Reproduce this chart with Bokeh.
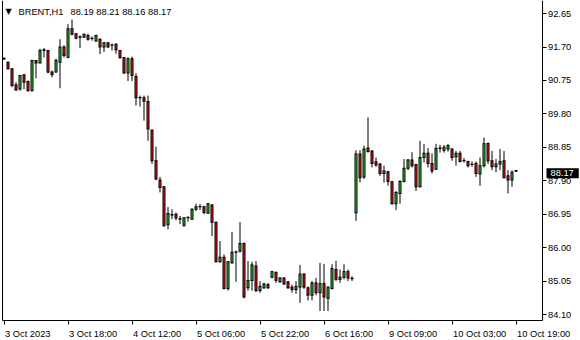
from bokeh.plotting import figure
from bokeh.models import FixedTicker, PrintfTickFormatter, Label, LinearAxis, Range1d, ColumnDataSource
from bokeh.embed import file_html
from bokeh.resources import INLINE

# ---- data (BRENT, H1) ----
opens = [91.38, 91.27, 91.08, 90.63, 90.51, 90.91, 90.72, 90.46, 91.32, 91.25,
         91.62, 91.60, 90.99, 90.99, 91.27, 91.70, 91.41, 92.22, 92.08, 91.99,
         91.98, 92.03, 91.95, 91.87, 91.92, 91.70, 91.82, 91.76, 91.78, 91.60,
         91.40, 90.96, 91.37, 90.86, 90.27, 90.26, 90.15, 89.34, 88.47, 87.92,
         87.73, 86.65, 86.94, 86.95, 86.82, 86.64, 86.86, 86.81, 87.09, 87.17,
         87.16, 86.98, 87.21, 86.72, 85.60, 85.73, 84.84, 85.57, 85.88, 85.90,
         86.12, 84.86, 85.07, 85.48, 84.78, 84.86, 84.95, 85.16, 85.30, 85.03,
         85.14, 85.03, 84.88, 84.81, 84.88, 85.25, 84.86, 84.65, 85.00, 84.72,
         84.98, 84.56, 84.84, 85.38, 85.10, 85.16, 85.32, 85.13, 86.99, 88.66,
         88.01, 88.83, 88.75, 88.44, 88.38, 88.11, 88.16, 87.87, 87.25, 87.54,
         87.88, 88.26, 88.49, 88.36, 87.73, 88.56, 88.68, 88.39, 88.23, 88.83,
         88.77, 88.80, 88.80, 88.58, 88.68, 88.48, 88.45, 88.37, 88.39, 88.09,
         88.33, 88.96, 88.47, 88.30, 88.38, 88.47, 88.04, 87.92, 88.19]
highs = [91.40, 91.29, 91.09, 90.70, 90.90, 90.92, 90.75, 91.34, 91.33, 91.65,
         91.67, 91.62, 91.03, 91.37, 91.92, 91.75, 92.35, 92.48, 92.10, 92.03,
         92.08, 92.08, 92.00, 92.05, 91.95, 91.84, 91.84, 91.80, 91.81, 91.62,
         91.41, 91.41, 91.43, 90.96, 90.32, 90.32, 90.32, 89.35, 88.87, 88.01,
         87.75, 87.16, 87.09, 87.00, 86.90, 86.87, 86.90, 87.12, 87.25, 87.24,
         87.19, 87.27, 87.24, 86.74, 86.19, 85.81, 85.62, 86.45, 85.92, 86.73,
         86.15, 85.62, 85.60, 85.62, 85.05, 85.00, 85.00, 85.34, 85.32, 85.16,
         85.16, 85.05, 84.95, 85.05, 85.51, 85.28, 84.90, 85.05, 85.14, 85.57,
         85.54, 84.90, 85.53, 85.63, 85.38, 85.53, 85.38, 85.19, 88.77, 88.77,
         88.90, 89.70, 88.77, 88.56, 88.40, 88.33, 88.18, 87.90, 87.61, 87.92,
         88.52, 88.52, 88.71, 88.38, 89.04, 88.95, 88.83, 88.68, 88.95, 88.92,
         88.92, 88.95, 88.82, 88.75, 88.75, 88.55, 88.47, 88.45, 88.45, 88.56,
         89.13, 88.99, 88.75, 88.52, 88.80, 88.75, 88.20, 88.20, 88.21]
lows = [91.33, 91.06, 90.56, 90.46, 90.46, 90.50, 90.44, 90.44, 90.81, 91.24,
        91.40, 90.95, 90.84, 90.97, 90.53, 91.40, 91.38, 92.03, 91.92, 91.67,
        91.96, 91.88, 91.88, 91.85, 91.50, 91.56, 91.68, 91.60, 91.51, 91.36,
        90.94, 90.73, 90.73, 90.04, 90.01, 89.61, 89.04, 88.38, 87.92, 87.57,
        86.60, 86.52, 86.81, 86.78, 86.67, 86.59, 86.74, 86.79, 87.04, 87.07,
        86.95, 86.97, 86.33, 85.58, 85.57, 84.81, 84.78, 85.54, 85.03, 85.86,
        84.56, 84.78, 84.78, 84.74, 84.72, 84.83, 84.83, 85.13, 85.00, 85.00,
        84.94, 84.83, 84.72, 84.69, 84.43, 84.83, 84.50, 84.50, 84.65, 84.20,
        84.20, 84.20, 84.81, 85.05, 85.00, 85.10, 85.05, 85.05, 86.76, 87.85,
        87.95, 88.70, 88.28, 88.30, 88.04, 87.85, 87.76, 87.22, 87.07, 87.25,
        87.85, 88.20, 88.28, 87.61, 87.71, 88.42, 88.28, 88.11, 88.21, 88.70,
        88.70, 88.73, 88.47, 88.33, 88.42, 88.42, 88.28, 88.30, 88.01, 87.76,
        88.28, 88.38, 88.20, 88.14, 88.20, 87.97, 87.54, 87.73, 88.16]
closes = [91.36, 91.08, 90.61, 90.48, 90.89, 90.70, 90.46, 91.32, 91.25, 91.60,
          91.60, 90.99, 90.91, 91.32, 91.70, 91.46, 92.22, 92.06, 91.95, 91.98,
          92.06, 91.92, 91.94, 92.03, 91.70, 91.82, 91.70, 91.75, 91.62, 91.40,
          90.96, 91.37, 90.89, 90.26, 90.26, 90.16, 89.37, 88.47, 87.95, 87.71,
          86.62, 86.97, 86.93, 86.84, 86.81, 86.85, 86.85, 87.09, 87.16, 87.16,
          87.00, 87.25, 86.72, 85.60, 85.73, 84.84, 85.60, 85.87, 85.87, 86.12,
          84.60, 85.07, 85.51, 84.78, 84.90, 84.97, 84.86, 85.32, 85.07, 85.14,
          84.97, 84.86, 84.81, 84.90, 85.25, 84.88, 84.65, 85.00, 84.72, 84.98,
          84.60, 84.88, 85.41, 85.10, 85.16, 85.32, 85.14, 85.12, 88.66, 87.99,
          88.80, 88.73, 88.39, 88.35, 88.11, 88.18, 87.88, 87.25, 87.57, 87.88,
          88.26, 88.49, 88.33, 87.73, 88.56, 88.68, 88.39, 88.18, 88.82, 88.82,
          88.85, 88.90, 88.56, 88.68, 88.45, 88.47, 88.33, 88.36, 88.11, 88.33,
          88.95, 88.47, 88.30, 88.38, 88.45, 87.99, 87.92, 88.14, 88.17]

tick_idx = [0, 16, 32, 48, 64, 80, 96, 112, 128]
tick_labels = ["3 Oct 2023", "3 Oct 18:00", "4 Oct 12:00", "5 Oct 06:00", "5 Oct 22:00",
               "6 Oct 16:00", "9 Oct 09:00", "10 Oct 03:00", "10 Oct 19:00"]
price_ticks = [84.10, 85.05, 86.00, 86.95, 87.90, 88.85, 89.80, 90.75, 91.70, 92.65]
symbol = "BRENT,H1"
last_ohlc = "88.19 88.21 88.16 88.17"
last_price = 88.17

# ---- geometry: the frame covers the whole canvas, axes are pinned inside it ----
PX = 35.2           # pixels per price unit
W, H = 580, 340
BAR = 4.0           # pixels per bar
AX_L, AX_R, AX_B = 1.5, 541.5, 319.5   # border lines (px)
y_top = 92.65 + 13.1 / PX
y_bot = y_top - H / PX
x_start = -3.5 / BAR
x_end = x_start + W / BAR

def xd(px):
    return x_start + px / BAR

def yd(py):
    return y_top - py / PX

FONT = "Liberation Sans"
FS = "9.3px"
BULL = "#2ecf2e"
BEAR = "#f51616"

p = figure(width=W, height=H, output_backend="svg", toolbar_location=None,
           x_range=Range1d(x_start, x_end), y_range=Range1d(y_bot, y_top),
           x_axis_location=None, y_axis_location=None,
           min_border_left=0, min_border_right=0, min_border_top=0, min_border_bottom=0)
p.outline_line_color = None
p.grid.visible = False
p.background_fill_color = "white"
p.border_fill_color = "white"

# right price axis
ya = LinearAxis(fixed_location=xd(AX_R), bounds=(yd(AX_B), y_top),
                ticker=FixedTicker(ticks=price_ticks),
                formatter=PrintfTickFormatter(format="%.2f"),
                major_tick_out=4, major_tick_in=0, minor_tick_out=0, minor_tick_in=0,
                axis_line_color="black", major_tick_line_color="black",
                major_label_standoff=2, major_label_text_font=FONT,
                major_label_text_font_size=FS, major_label_text_color="black")
p.add_layout(ya, "right")

# bottom time axis (tick marks; labels left-aligned below)
xa = LinearAxis(fixed_location=yd(AX_B), bounds=(xd(AX_L), xd(AX_R)),
                ticker=FixedTicker(ticks=tick_idx),
                major_tick_out=4, major_tick_in=0, minor_tick_out=0, minor_tick_in=0,
                axis_line_color="black", major_tick_line_color="black",
                major_label_text_color=None, major_label_text_font_size="1px")
p.add_layout(xa, "below")

# left border line
la = LinearAxis(fixed_location=xd(AX_L), bounds=(yd(AX_B), y_top),
                ticker=FixedTicker(ticks=price_ticks),
                major_tick_out=0, major_tick_in=0, minor_tick_out=0, minor_tick_in=0,
                major_tick_line_color=None, major_label_text_color=None,
                major_label_text_font_size="1px", axis_line_color="black")
p.add_layout(la, "left")

for i, t in zip(tick_idx, tick_labels):
    p.add_layout(Label(x=i, y=yd(333), text=t, text_align="left",
                       text_baseline="alphabetic", x_offset=1,
                       text_font=FONT, text_font_size=FS, text_color="black"))

# ---- candles: black 3px body, 1px coloured core, 1px wick ----
half_px = 0.5 / PX
one_px = 1.0 / PX
idx = list(range(len(opens)))
top = [max(a, b) for a, b in zip(opens, closes)]
bot = [min(a, b) for a, b in zip(opens, closes)]
in_top = [t - half_px for t in top]
in_bot = [b + half_px for b in bot]
in_bot = [min(b, t) for b, t in zip(in_bot, in_top)]
src = ColumnDataSource(dict(
    x=idx, h=highs, l=lows,
    otop=[t + half_px for t in top], obot=[b - half_px for b in bot],
    itop=in_top, ibot=in_bot,
    col=[BULL if c >= o else BEAR for o, c in zip(opens, closes)],
))
p.segment(x0="x", y0="l", x1="x", y1="h", source=src, line_color="black", line_width=1)
p.vbar(x="x", width=0.75, top="otop", bottom="obot", source=src,
       fill_color="black", line_color=None)
p.vbar(x="x", width=0.25, top="itop", bottom="ibot", source=src,
       fill_color="col", line_color=None)

# ---- header ----
p.add_layout(Label(x=xd(5), y=yd(11), text="\u25BC", text_align="left",
                   text_baseline="middle", text_font="DejaVu Sans",
                   text_font_size="8px", text_color="black"))
p.add_layout(Label(x=xd(18), y=yd(11), text=symbol, text_align="left",
                   text_baseline="middle", text_font=FONT, text_font_size=FS,
                   text_color="black"))
p.add_layout(Label(x=xd(70), y=yd(11), text=last_ohlc, text_align="left",
                   text_baseline="middle", text_font=FONT, text_font_size=FS,
                   text_color="black"))

# ---- current price tag ----
p.add_layout(Label(x=xd(546), y=last_price, y_offset=-2, text="%.2f" % last_price,
                   text_align="left", text_baseline="middle", text_font=FONT,
                   text_font_size=FS, text_color="white",
                   background_fill_color="black",
                   padding=dict(left=4, right=5, top=2, bottom=2)))

open("out.html", "w").write(file_html(p, INLINE))
